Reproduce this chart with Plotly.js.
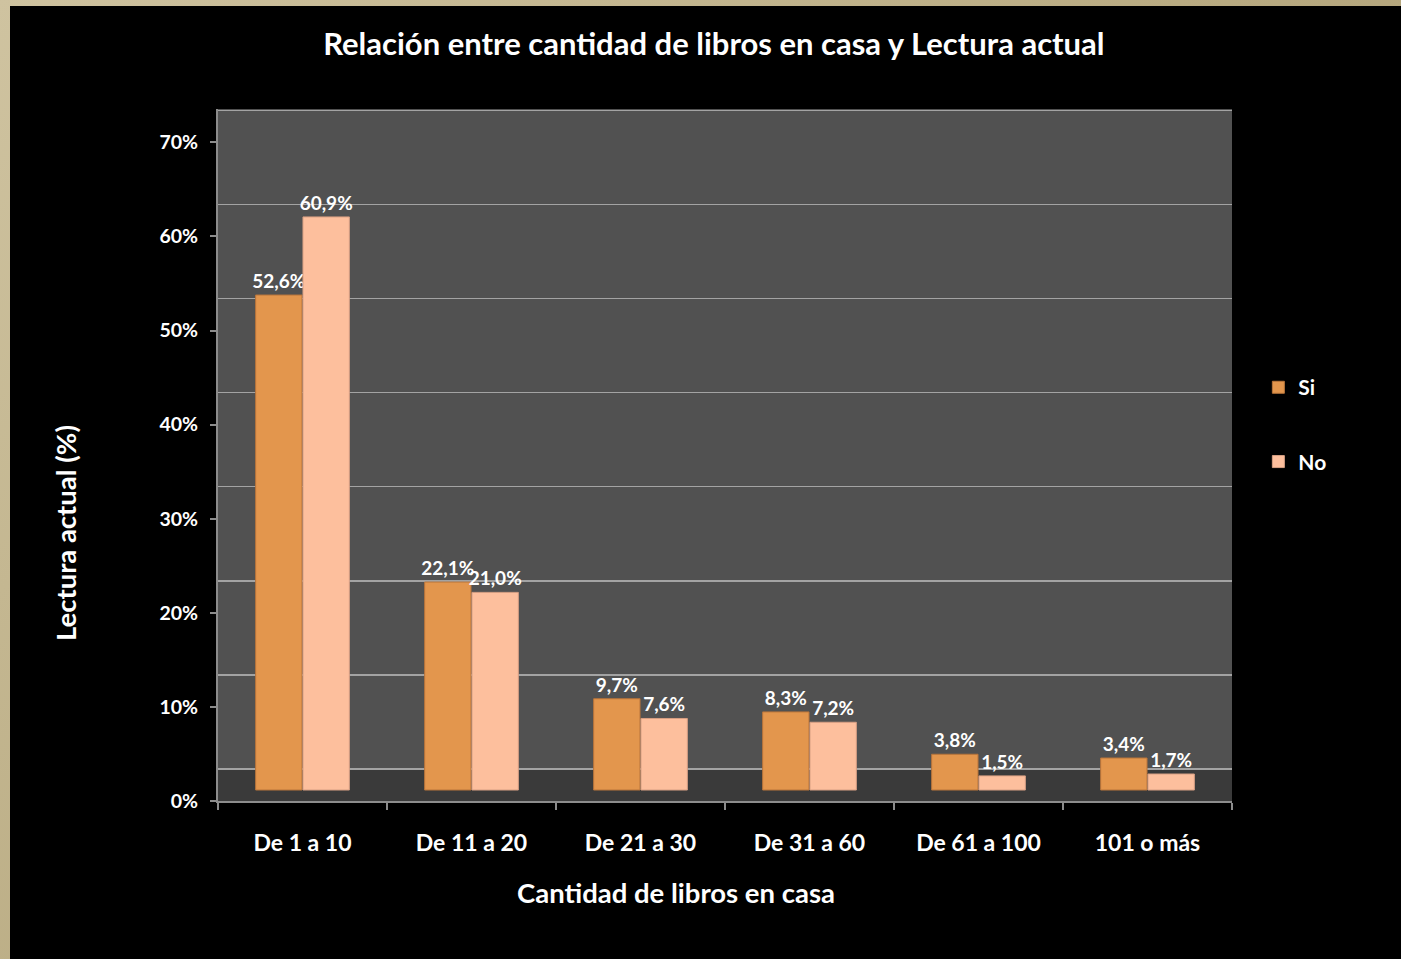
<!DOCTYPE html>
<html>
<head>
<meta charset="utf-8">
<script src="https://cdn.plot.ly/plotly-3.0.1.min.js"></script>
<style>
html,body{margin:0;padding:0;width:1401px;height:959px;overflow:hidden;
background:linear-gradient(135deg,#cfc3a0 0%,#b9ab82 50%,#a3946a 100%);}
#chart{position:absolute;left:10px;top:6px;width:1391px;height:953px;background:#000;}
</style>
</head>
<body>
<div id="chart"></div>
<script>
const categories = ["De 1 a 10","De 11 a 20","De 21 a 30","De 31 a 60","De 61 a 100","101 o más"];
const seriesNames = ["Si","No"];
const siValues = [52.6, 22.1, 9.7, 8.3, 3.8, 3.4];
const noValues = [60.9, 21.0, 7.6, 7.2, 1.5, 1.7];
const yTickVals = [0,10,20,30,40,50,60,70];
const yTickText = yTickVals.map(v => v + "%");

const FONT = "Lato, 'Open Sans', sans-serif";
const pxPerUnit = 9.41;
const plotH = 692;
const span = plotH / pxPerUnit;
const barBottom = -11 / pxPerUnit;            // bar axis: plot bottom value
const gridOffset = 21 / pxPerUnit;            // back-wall grid is drawn higher (3D look)
const gridVals = yTickVals.map(v => v + gridOffset);
const floorDepth = 32 / pxPerUnit;            // floor band height on the label axis

const traces = [
  {
    type: "bar", name: seriesNames[0], x: categories, y: siValues,
    xaxis: "x", yaxis: "y", legendgroup: "a",
    marker: {color: "#e3964d", line: {color: "#b8743a", width: 1}},
    texttemplate: "%{y:.1f}%", textposition: "outside", cliponaxis: false,
    constraintext: "none",
    textfont: {color: "#ffffff", size: 19, family: FONT, weight: "bold"},
    hoverinfo: "x+y"
  },
  {
    type: "bar", name: seriesNames[1], x: categories, y: noValues,
    xaxis: "x", yaxis: "y", legendgroup: "b",
    marker: {color: "#fdbf9d", line: {color: "#d79f83", width: 1}},
    texttemplate: "%{y:.1f}%", textposition: "outside", cliponaxis: false,
    constraintext: "none",
    textfont: {color: "#ffffff", size: 19, family: FONT, weight: "bold"},
    hoverinfo: "x+y"
  }
];

const layout = {
  width: 1391, height: 953,
  paper_bgcolor: "#000000",
  plot_bgcolor: "#515151",
  separators: ",.",
  font: {family: FONT, color: "#ffffff", weight: "bold"},
  margin: {l: 208, r: 169, t: 103, b: 158},
  barmode: "group",
  bargap: 0.44,
  bargroupgap: 0.02,
  title: {
    text: "Relación entre cantidad de libros en casa y Lectura actual",
    x: 0.506, xanchor: "center", y: 0.96, yanchor: "middle",
    font: {size: 31, color: "#ffffff", family: FONT, weight: "bold"}
  },
  xaxis: {
    type: "category",
    showgrid: false,
    showline: true, linecolor: "#8c8c8c", linewidth: 2,
    ticks: "outside", tickson: "boundaries", ticklen: 7, tickcolor: "#8c8c8c", tickwidth: 2,
    tickfont: {size: 23, color: "#ffffff", family: FONT, weight: "bold"},
    ticklabelstandoff: 20,
    fixedrange: true
  },
  yaxis: {
    range: [barBottom, barBottom + span],
    tickvals: gridVals, showticklabels: false, ticks: "",
    showgrid: true, gridcolor: "#a3a3a3", gridwidth: 1.5,
    zeroline: false, showline: false,
    fixedrange: true
  },
  yaxis2: {
    overlaying: "y", side: "left",
    range: [0, span],
    tickvals: yTickVals, ticktext: yTickText,
    showgrid: false, zeroline: false,
    showline: true, linecolor: "#8c8c8c", linewidth: 2,
    ticks: "outside", ticklen: 6, tickcolor: "#8c8c8c", tickwidth: 2,
    tickfont: {size: 19.5, color: "#ffffff", family: FONT, weight: "bold"},
    ticklabelstandoff: 8,
    fixedrange: true
  },
  shapes: [
    {type: "rect", xref: "paper", yref: "y2", x0: 0, x1: 1, y0: 0, y1: floorDepth,
     fillcolor: "#3a3a3a", line: {width: 0}, layer: "below"}
  ],
  annotations: [
    {text: "Cantidad de libros en casa", xref: "paper", yref: "paper",
     x: 0.4517, y: -0.132, xanchor: "center", yanchor: "middle", showarrow: false,
     font: {size: 27.5, color: "#ffffff", family: FONT, weight: "bold"}},
    {text: "Lectura actual (%)", xref: "paper", yref: "paper", textangle: -90,
     x: -0.151, y: 0.387, xanchor: "center", yanchor: "middle", showarrow: false,
     font: {size: 27.5, color: "#ffffff", family: FONT, weight: "bold"}}
  ],
  legend: {
    x: 1.026, xanchor: "left", y: 0.627, yanchor: "top",
    bgcolor: "rgba(0,0,0,0)",
    traceorder: "grouped", tracegroupgap: 44,
    font: {size: 21, color: "#ffffff", family: FONT, weight: "bold"},
    itemwidth: 30
  },
  showlegend: true
};

Plotly.newPlot("chart", traces, layout, {displayModeBar: false, staticPlot: true});
</script>
</body>
</html>
